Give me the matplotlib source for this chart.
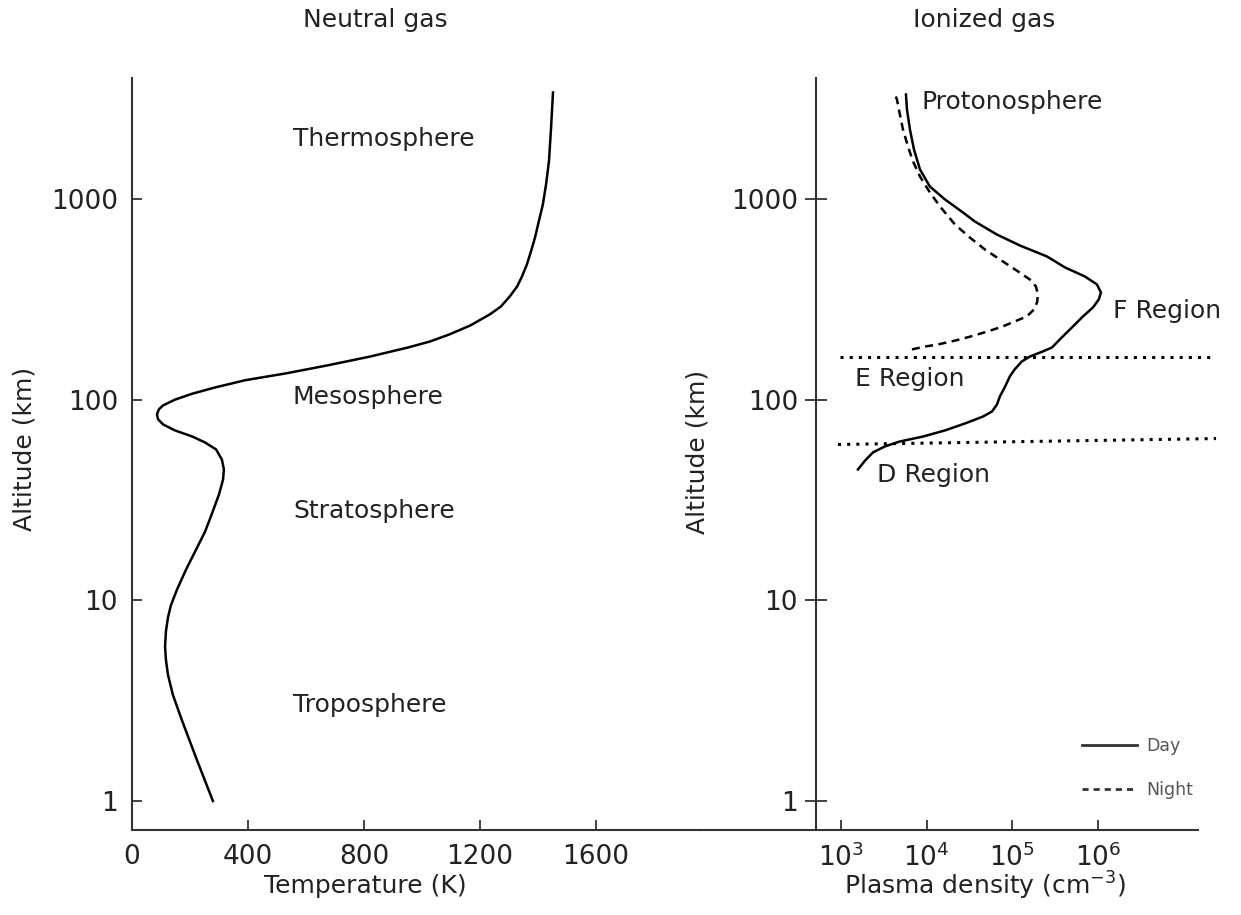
import matplotlib
matplotlib.use("Agg")
import matplotlib.pyplot as plt
from matplotlib.lines import Line2D

# ---------------- data ----------------
# Neutral gas: temperature profile
temp_K = [279, 224, 172, 141, 124, 117, 114, 117, 124, 134, 155, 186, 221, 252,
          276, 300, 314, 317, 310, 290, 252, 207, 148, 107, 90, 86, 93, 107,
          148, 207, 286, 390, 528, 672, 821, 952, 1028, 1093, 1166, 1234, 1272,
          1303, 1328, 1345, 1362, 1376, 1390, 1403, 1417, 1428, 1438, 1445, 1452]
temp_alt_km = [1.0, 1.60, 2.53, 3.38, 4.26, 5.06, 5.89, 6.99, 8.21, 9.43, 11.3,
               14.2, 17.9, 22.0, 27.1, 33.7, 40.0, 44.9, 50.3, 56.5, 61.2, 65.6,
               70.3, 75.3, 79.8, 84.6, 89.6, 93.6, 100, 107, 115, 125, 135, 148,
               164, 182, 195, 211, 234, 266, 291, 327, 366, 411, 472, 548, 643,
               773, 939, 1180, 1540, 2220, 3396]

# Ionized gas: plasma density profiles (cm^-3)
day_density = [1.58e3, 1.91e3, 2.36e3, 3.26e3, 4.87e3, 9.06e3, 1.64e4, 2.80e4,
               4.54e4, 5.78e4, 6.61e4, 7.17e4, 8.20e4, 9.38e4, 1.07e5, 1.29e5,
               1.60e5, 2.27e5, 2.90e5, 3.59e5, 4.70e5, 6.67e5, 8.72e5, 1.02e6,
               1.08e6, 9.71e5, 7.03e5, 4.11e5, 2.54e5, 1.23e5, 6.61e4, 3.66e4,
               2.65e4, 1.64e4, 1.09e4, 8.36e3, 7.11e3, 6.38e3, 5.89e3, 5.73e3]
day_alt_km = [44.9, 49.7, 54.6, 58.5, 61.9, 65.5, 70.3, 76.1, 82.4, 87.3, 94.6,
              104, 116, 131, 142, 155, 164, 174, 182, 200, 224, 260, 288, 316,
              342, 375, 411, 456, 517, 586, 665, 772, 857, 994, 1154, 1402, 1764,
              2220, 2793, 3318]
night_density = [6.73e3, 9.55e3, 1.32e4, 2.14e4, 3.20e4, 5.19e4, 7.77e4, 1.13e5,
                 1.48e5, 1.79e5, 1.94e5, 1.99e5, 1.88e5, 1.60e5, 1.16e5, 7.77e4,
                 4.79e4, 3.20e4, 2.14e4, 1.43e4, 1.09e4, 8.36e3, 6.92e3, 6.05e3,
                 5.29e3, 4.87e3, 4.50e3, 4.27e3]
night_alt_km = [178, 184, 188, 197, 206, 219, 232, 248, 260, 282, 305, 334, 367,
                397, 436, 488, 560, 642, 746, 918, 1079, 1294, 1540, 1828, 2220,
                2636, 3130, 3318]

# region boundaries (dotted lines): [x_start, x_end], [alt_start, alt_end]
upper_bound_x = [973, 2.13e7]
upper_bound_alt = [163, 163]
lower_bound_x = [923, 2.38e7]
lower_bound_alt = [59.8, 64.0]

alt_ticks = [1, 10, 100, 1000]
alt_ticklabels = ["1", "10", "100", "1000"]
temp_ticks = [0, 400, 800, 1200, 1600]
dens_ticks = [1e3, 1e4, 1e5, 1e6]
dens_ticklabels = [r"$10^3$", r"$10^4$", r"$10^5$", r"$10^6$"]

neutral_layers = ["Thermosphere", "Mesosphere", "Stratosphere", "Troposphere"]
neutral_layer_alt = [1980, 103, 28, 3.0]
ion_regions = ["Protonosphere", "F Region", "E Region", "D Region"]
ion_region_x = [8.6e3, 1.49e6, 1.46e3, 2.63e3]
ion_region_alt = [3027, 278, 127, 41.9]

# ---------------- figure ----------------
W, H = 1241, 915
fig = plt.figure(figsize=(W / 100, H / 100), dpi=100)
plt.rcParams["font.family"] = ["DejaVu Sans"]

def fx(px):
    return px / W

def fy(py):
    return 1 - py / H

TXT = "#222222"
SP = "#333333"
FS = 18
TFS = 19

ax_bottom = fy(830)
ax_height = fy(78) - fy(830)
split = 700
ax1 = fig.add_axes([fx(132), ax_bottom, fx(split) - fx(132), ax_height])
ax2 = fig.add_axes([fx(split), ax_bottom, fx(1198) - fx(split), ax_height])

ylo, yhi = 0.717, 4009
for ax in (ax1, ax2):
    ax.set_yscale("log")
    ax.set_ylim(ylo, yhi)
    ax.spines["top"].set_visible(False)
    ax.spines["right"].set_visible(False)
    for s in ("left", "bottom"):
        ax.spines[s].set_color(SP)
        ax.spines[s].set_linewidth(1.5)
    ax.minorticks_off()
    ax.set_yticks(alt_ticks)
    ax.set_yticklabels(alt_ticklabels)
    ax.tick_params(colors=SP, labelcolor=TXT, labelsize=TFS, width=1.3)
    ax.tick_params(axis="x", direction="in", length=7, pad=10)
    ax.patch.set_alpha(0)

# left panel
ax1.set_xlim(0, 1959)
ax1.set_xticks(temp_ticks)
ax1.set_xticklabels([str(t) for t in temp_ticks])
ax1.tick_params(axis="y", direction="in", length=7, pad=10)
ax1.plot(temp_K, temp_alt_km, color="black", lw=1.8, solid_joinstyle="round")
for name, a in zip(neutral_layers, neutral_layer_alt):
    ax1.text(555, a, name, fontsize=FS, color=TXT, ha="left", va="center")

# right panel
ax2.set_xscale("log")
ax2.set_xlim(10 ** 1.355, 10 ** 7.166)
ax2.minorticks_off()
ax2.set_xticks(dens_ticks)
ax2.set_xticklabels(dens_ticklabels)
ax2.tick_params(axis="x", which="minor", length=0)
ax2.spines["left"].set_position(("data", 10 ** 2.71))
ax2.tick_params(axis="y", direction="inout", length=16, pad=5)
ax2.plot(day_density, day_alt_km, color="black", lw=1.8, label="Day",
         solid_joinstyle="round")
ax2.plot(night_density, night_alt_km, color="black", lw=1.8,
         linestyle=(0, (3.2, 2.2)), label="Night")
ax2.plot(upper_bound_x, upper_bound_alt, color="black", lw=2.2,
         linestyle=(0, (1, 2)), clip_on=False)
ax2.plot(lower_bound_x, lower_bound_alt, color="black", lw=2.2,
         linestyle=(0, (1, 2)), clip_on=False)
for name, xv, a in zip(ion_regions, ion_region_x, ion_region_alt):
    ax2.text(xv, a, name, fontsize=FS, color=TXT, ha="left", va="center")

handles = [Line2D([], [], color="#333333", lw=2.0),
           Line2D([], [], color="#333333", lw=2.0, linestyle=(0, (2.2, 1.8)))]
leg = ax2.legend(handles, ["Day", "Night"], loc="upper left",
                 bbox_to_anchor=(fx(1068), fy(723)), bbox_transform=fig.transFigure,
                 frameon=False, fontsize=12.5, handlelength=3.2, labelspacing=1.5,
                 handletextpad=0.5, borderpad=0.3)
for t in leg.get_texts():
    t.set_color("#555555")

# titles and axis labels
fig.text(fx(375), fy(20), "Neutral gas", fontsize=FS, color=TXT, ha="center", va="center")
fig.text(fx(984), fy(20), "Ionized gas", fontsize=FS, color=TXT, ha="center", va="center")
fig.text(fx(25), fy(449), "Altitude (km)", fontsize=FS, color=TXT, ha="center",
         va="center", rotation=90)
fig.text(fx(698), fy(452), "Altitude (km)", fontsize=FS, color=TXT, ha="center",
         va="center", rotation=90)
fig.text(fx(365), fy(886), "Temperature (K)", fontsize=FS, color=TXT, ha="center", va="center")
fig.text(fx(985), fy(886), r"Plasma density (cm$^{-3}$)", fontsize=FS, color=TXT,
         ha="center", va="center")

fig.savefig("out.png", dpi=100)
